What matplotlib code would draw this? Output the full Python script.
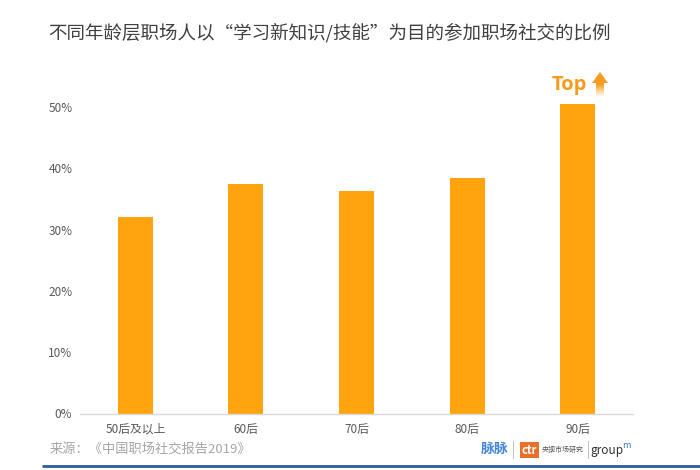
import numpy as np
from matplotlib import pyplot as plt
from matplotlib.colors import LinearSegmentedColormap
from matplotlib.patches import Polygon, Rectangle

plt.rcParams['font.family'] = ['Noto Sans CJK SC', 'DejaVu Sans']

categories = ['50后及以上', '60后', '70后', '80后', '90后']
values = [32.1, 37.5, 36.3, 38.4, 50.5]
ytick_values = [0, 10, 20, 30, 40, 50]

W, H = 700, 470
BAR_COLOR = '#FFA30F'
TEXT_COLOR = '#595959'

fig = plt.figure(figsize=(W / 100, H / 100), dpi=100, facecolor='white')


def px_box(x0, y0, x1, y1):
    # pixel box (y from the top) to figure fractions
    return [x0 / W, 1 - y1 / H, (x1 - x0) / W, (y1 - y0) / H]


ax = fig.add_axes(px_box(80, 95, 633, 413.5))
x = np.arange(len(categories))
ax.bar(x, values, width=0.317, color=BAR_COLOR)
ax.set_xlim(-0.5, len(categories) - 0.5)
ax.set_ylim(0, 50 * (413.5 - 95) / (413.5 - 107))
ax.set_yticks(ytick_values)
ax.set_yticklabels([f'{v}%' for v in ytick_values], fontsize=8.5, color=TEXT_COLOR)
ax.set_xticks(x)
ax.set_xticklabels(categories, fontsize=8.5, color=TEXT_COLOR)
ax.tick_params(length=0)
ax.tick_params(axis='x', pad=6.5)
ax.tick_params(axis='y', pad=5.5)
for side in ['top', 'right', 'left']:
    ax.spines[side].set_visible(False)
ax.spines['bottom'].set_color('#D9D9D9')
ax.spines['bottom'].set_linewidth(1)

# overlay in pixel coordinates for title, logos and footer
ov = fig.add_axes([0, 0, 1, 1], facecolor='none')
ov.set_xlim(0, W)
ov.set_ylim(H, 0)
ov.axis('off')

ov.text(48, 33, '不同年龄层职场人以“学习新知识/技能”为目的参加职场社交的比例',
        fontsize=13.35, color='#404040', va='center', ha='left')

ov.text(552, 85, 'Top', fontsize=14.5, fontweight='bold', color='#F79A1E',
        va='center', ha='left', family='Open Sans')

# arrow with fade towards the bottom
cmap = LinearSegmentedColormap.from_list('fade', ['#F79A1E', '#F79A1E', '#FFFFFF'])
grad = np.linspace(0, 1, 64).reshape(-1, 1)
im = ov.imshow(grad, cmap=cmap, extent=(590, 610, 97, 71), aspect='auto', zorder=3)
arrow = Polygon([(600, 72), (608, 83), (604, 83), (604, 97), (596, 97), (596, 83), (592, 83)],
                closed=True, transform=ov.transData, facecolor='none', edgecolor='none')
ov.add_patch(arrow)
im.set_clip_path(arrow)
ov.set_xlim(0, W)
ov.set_ylim(H, 0)

# footer
ov.text(50, 449, '来源：《中国职场社交报告2019》', fontsize=9.5, color='#A6A6A6',
        va='center', ha='left')
ov.plot([42, 700], [465.5, 465.5], color='#2F5D9E', lw=2, solid_capstyle='butt')

# logos
ov.text(481, 449, '脉脉', fontsize=10, fontweight='bold', color='#4A86D8', va='center', ha='left')
ov.plot([513, 513], [441, 458], color='#BFBFBF', lw=0.7)
ov.add_patch(Rectangle((520, 442), 19, 16, facecolor='#E8702A', edgecolor='none'))
ov.text(529.5, 450, 'ctr', fontsize=8, fontweight='bold', color='white', va='center', ha='center')
ov.text(542, 450, '央视市场研究', fontsize=5, color='#555555', va='center', ha='left')
ov.plot([588, 588], [441, 458], color='#BFBFBF', lw=0.7)
ov.text(590, 450.5, 'group', fontsize=8.5, color='#333333', va='center', ha='left')
ov.text(622, 446, 'm', fontsize=6.5, fontstyle='italic', color='#3A78C2', va='center', ha='left')

fig.savefig('out.png', dpi=100, facecolor='white')
